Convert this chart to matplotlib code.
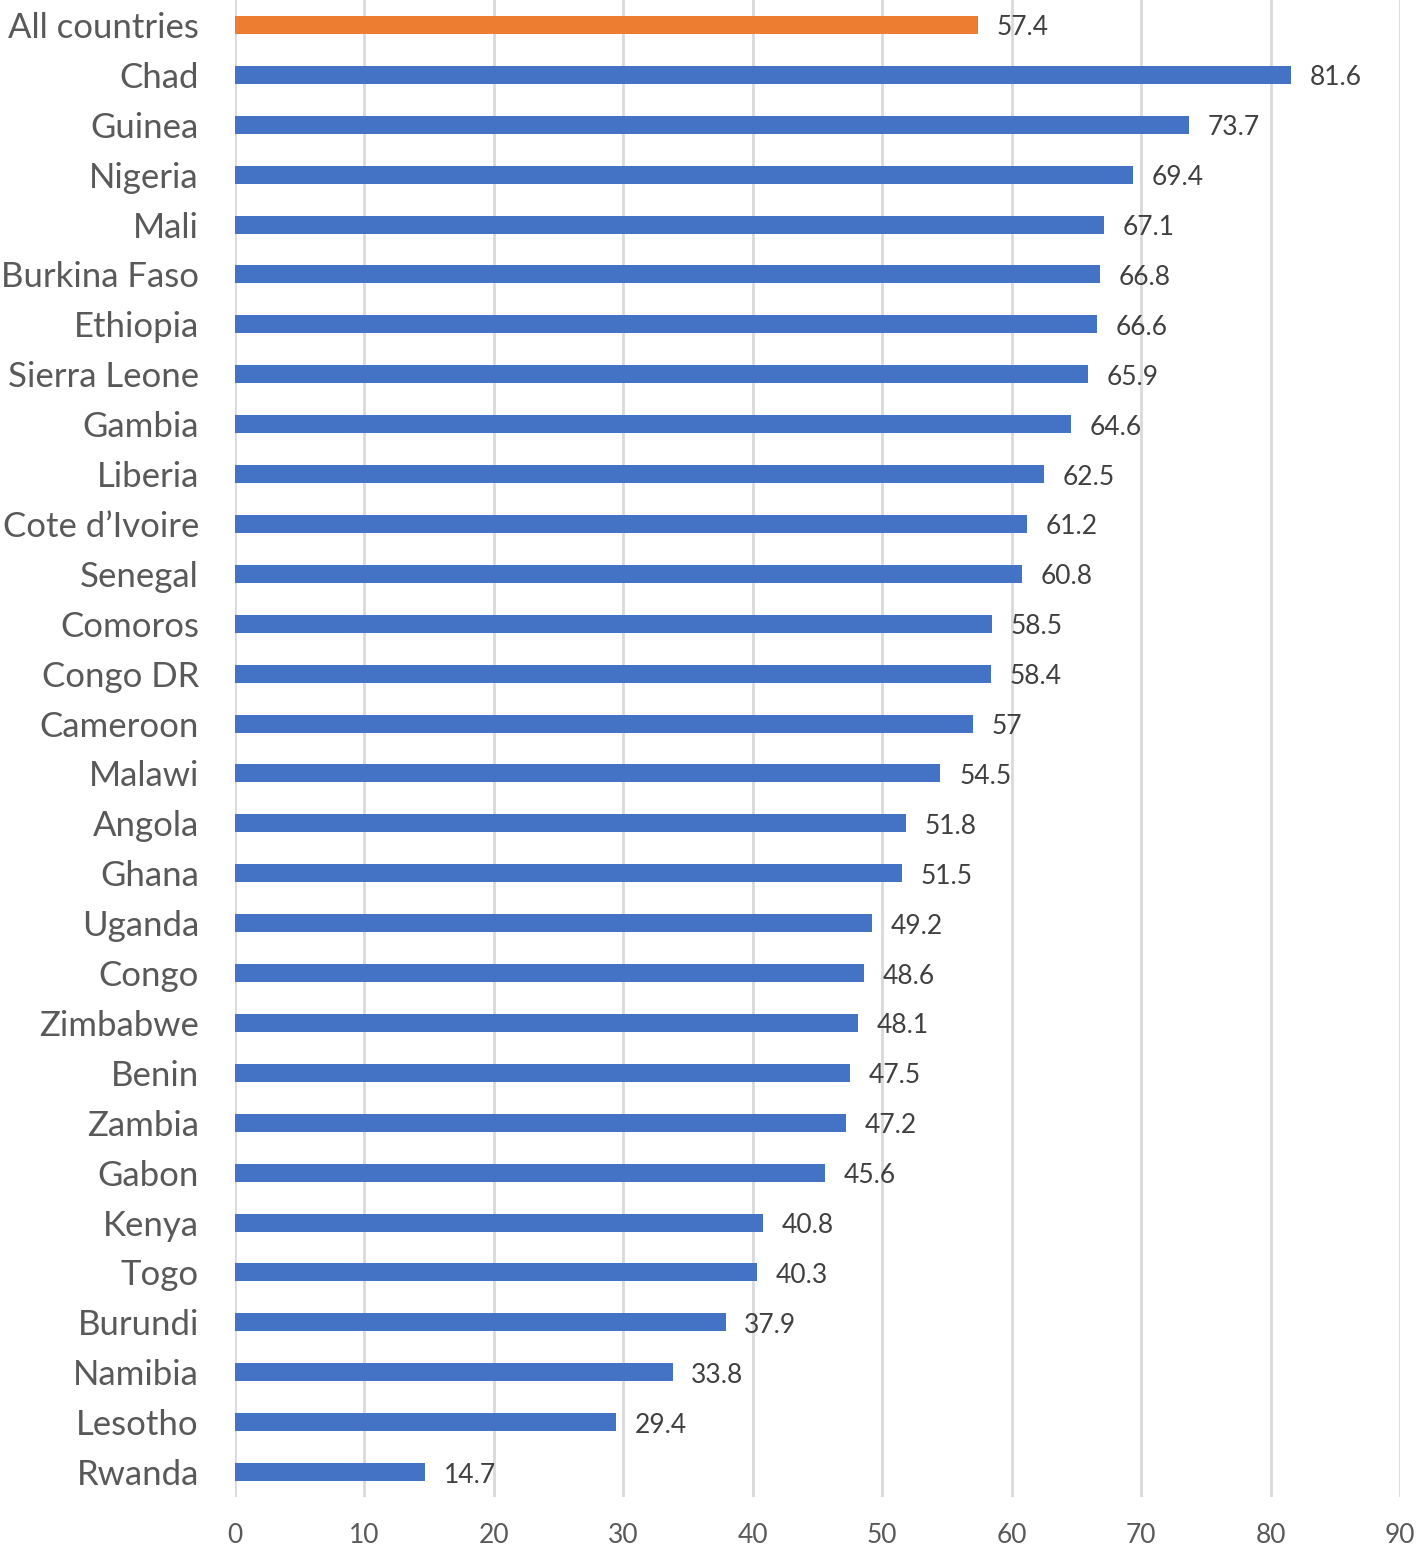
import matplotlib
matplotlib.use("Agg")
import matplotlib.pyplot as plt

countries = ["All countries", "Chad", "Guinea", "Nigeria", "Mali", "Burkina Faso", "Ethiopia",
             "Sierra Leone", "Gambia", "Liberia", "Cote d\u2019Ivoire", "Senegal", "Comoros",
             "Congo DR", "Cameroon", "Malawi", "Angola", "Ghana", "Uganda", "Congo", "Zimbabwe",
             "Benin", "Zambia", "Gabon", "Kenya", "Togo", "Burundi", "Namibia", "Lesotho", "Rwanda"]
values = [57.4, 81.6, 73.7, 69.4, 67.1, 66.8, 66.6, 65.9, 64.6, 62.5, 61.2, 60.8, 58.5,
          58.4, 57, 54.5, 51.8, 51.5, 49.2, 48.6, 48.1, 47.5, 47.2, 45.6, 40.8, 40.3,
          37.9, 33.8, 29.4, 14.7]
value_labels = ["57.4", "81.6", "73.7", "69.4", "67.1", "66.8", "66.6", "65.9", "64.6", "62.5",
                "61.2", "60.8", "58.5", "58.4", "57", "54.5", "51.8", "51.5", "49.2", "48.6",
                "48.1", "47.5", "47.2", "45.6", "40.8", "40.3", "37.9", "33.8", "29.4", "14.7"]
xticks = [0, 10, 20, 30, 40, 50, 60, 70, 80, 90]

plt.rcParams['font.family'] = ['Lato', 'DejaVu Sans']

fig = plt.figure(figsize=(14.16, 15.49), dpi=100)
ax = fig.add_axes([235/1416, 1 - 1497/1549, (1400-235)/1416, 1497/1549])

colors = ['#ED7D31'] + ['#4472C4'] * (len(countries) - 1)
ypos = list(range(len(countries)))
ax.barh(ypos, values, height=0.36, color=colors, zorder=3)
for y, v, lab in zip(ypos, values, value_labels):
    ax.text(v + 1.45, y + 0.06, lab, va='center', ha='left', fontsize=19, color='#404040')

ax.set_ylim(len(countries) - 0.5, -0.5)
ax.set_xlim(0, 90)
ax.set_yticks(ypos)
ax.set_yticklabels(countries, fontsize=25, color='#595959')
ax.set_xticks(xticks)
ax.set_xticklabels([str(t) for t in xticks], fontsize=19, color='#595959')
ax.tick_params(axis='y', length=0, pad=26)
ax.tick_params(axis='x', length=0, pad=19)
ax.grid(axis='x', color='#D9D9D9', linewidth=2, zorder=0)
for s in ax.spines.values():
    s.set_visible(False)

fig.savefig("out.png", dpi=100)
